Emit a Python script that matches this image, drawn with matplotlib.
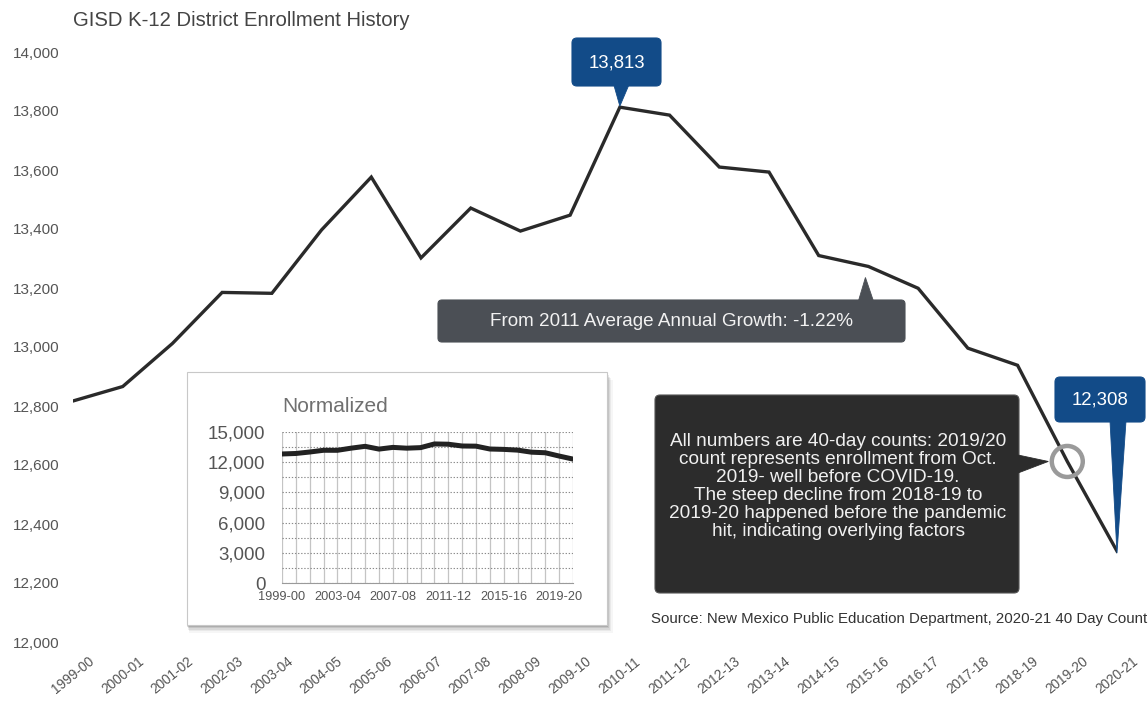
import matplotlib
matplotlib.use("Agg")
import matplotlib.pyplot as plt
from matplotlib.patches import FancyBboxPatch, Polygon, Rectangle, Circle
from matplotlib.transforms import IdentityTransform
from matplotlib.ticker import FuncFormatter

# ---- data -----------------------------------------------------------------
school_years = ["1999-00", "2000-01", "2001-02", "2002-03", "2003-04", "2004-05",
                "2005-06", "2006-07", "2007-08", "2008-09", "2009-10", "2010-11",
                "2011-12", "2012-13", "2013-14", "2014-15", "2015-16", "2016-17",
                "2017-18", "2018-19", "2019-20", "2020-21"]
enrollment = [12817, 12866, 13012, 13185, 13182, 13397, 13576, 13302, 13471, 13393,
              13447, 13813, 13786, 13610, 13593, 13310, 13273, 13199, 12996, 12938,
              12612, 12308]
main_yticks = list(range(12000, 14001, 200))
inset_yticks = list(range(0, 15001, 3000))
inset_label_years = school_years[::4]

title_text = "GISD K-12 District Enrollment History"
growth_text = "From 2011 Average Annual Growth: -1.22%"
note_lines = ["All numbers are 40-day counts: 2019/20",
              "count represents enrollment from Oct.",
              "2019- well before COVID-19.",
              "The steep decline from 2018-19 to",
              "2019-20 happened before the pandemic",
              "hit, indicating overlying factors"]
source_text = "Source: New Mexico Public Education Department, 2020-21 40 Day Count"

# ---- style ----------------------------------------------------------------
plt.rcParams["font.family"] = ["Liberation Sans", "DejaVu Sans"]
W, H = 1148, 703
LINE = "#2a2a2a"
BLUE = "#124b88"
SLATE = "#4b4f55"
DARK = "#2c2c2c"
TICK = "#555555"

fig = plt.figure(figsize=(W / 100, H / 100), dpi=100)
fig.patch.set_facecolor("white")
ID = IdentityTransform()


def py(y):
    """Convert a distance from the top edge (pixels) into display y."""
    return H - y


fmt = FuncFormatter(lambda v, _: f"{int(v):,}")

# ---- main chart -----------------------------------------------------------
ax = fig.add_axes([73 / W, 1 - 642 / H, (1117 - 73) / W, (642 - 52) / H])
xs = list(range(len(school_years)))
ax.plot(xs, enrollment, color=LINE, lw=2.4, solid_joinstyle="miter", zorder=3)
ax.set_xlim(0, len(school_years) - 1)
ax.set_ylim(main_yticks[0], main_yticks[-1])
for s in ax.spines.values():
    s.set_visible(False)
ax.set_yticks(main_yticks)
ax.yaxis.set_major_formatter(fmt)
ax.set_xticks(xs)
ax.set_xticklabels(school_years, rotation=39, ha="center", va="center",
                   rotation_mode="anchor", fontsize=9.8, color=TICK)
ax.tick_params(axis="both", length=0)
ax.tick_params(axis="y", pad=10, labelsize=11, labelcolor=TICK)
ax.tick_params(axis="x", pad=24)

fig.text(73 / W, 1 - 21 / H, title_text, fontsize=14.6, color="#444444",
         va="center", ha="left")
fig.text(651 / W, 1 - 619 / H, source_text, fontsize=10.8, color="#333333",
         va="center", ha="left")

fig.canvas.draw()


def to_disp(i, v):
    return ax.transData.transform((i, v))


def box(x0, y0, x1, y1, color, z, r=5, ec=None):
    p = FancyBboxPatch((x0, py(y1)), x1 - x0, y1 - y0,
                       boxstyle=f"round,pad=0,rounding_size={r}",
                       fc=color, ec=ec if ec else color, lw=0.8,
                       transform=ID, zorder=z)
    fig.add_artist(p)


def tri(pts, color, z):
    fig.add_artist(Polygon(pts, closed=True, fc=color, ec=color, lw=0.6,
                           transform=ID, zorder=z))


# peak callout
ipk = enrollment.index(max(enrollment))
tx, ty = to_disp(ipk, enrollment[ipk])
box(572, 38, 661, 86, BLUE, 6)
tri([(tx - 6, py(85)), (tx + 9, py(85)), (tx, ty + 1)], BLUE, 6)
fig.text(617 / W, 1 - 63 / H, f"{enrollment[ipk]:,}", color="white",
         fontsize=13.4, ha="center", va="center", zorder=7)

# latest-year callout
tx, ty = to_disp(xs[-1], enrollment[-1])
box(1055, 377, 1145, 422, BLUE, 6)
tri([(tx - 7, py(421)), (tx + 9, py(421)), (tx, ty - 2)], BLUE, 6)
fig.text(1100 / W, 1 - 400 / H, f"{enrollment[-1]:,}", color="white",
         fontsize=13.4, ha="center", va="center", zorder=7)

# average growth callout, pointing at 2015-16
tx, ty = to_disp(16, enrollment[16])
box(438, 300, 905, 342, SLATE, 5, r=4)
tri([(tx - 10, py(301)), (tx + 5, py(301)), (tx - 3, ty - 11)], SLATE, 5)
fig.text(671 / W, 1 - 322 / H, growth_text, color="#f2f2f2", fontsize=13.6,
         ha="center", va="center", zorder=6)

# ring on 2019-20 and the note box
cx, cy = to_disp(20, enrollment[20])
fig.add_artist(Circle((cx, cy), 15.5, fill=False, ec="#9a9a9a", lw=3.2,
                      transform=ID, zorder=8))
box(655, 395, 1019, 593, DARK, 5, r=5, ec="#555555")
tri([(1018, py(455)), (1018, py(473)), (cx - 19, cy)], DARK, 5)
for k, line in enumerate(note_lines):
    fig.text(838 / W, 1 - (442 + 18 * k) / H, line, color="#f0f0f0",
             fontsize=13.7, ha="center", va="center", zorder=6)

# ---- normalized inset -----------------------------------------------------
shadow = [(8, 0.035), (6, 0.05), (4.5, 0.07), (3, 0.09), (1.5, 0.12)]
for off, a in shadow:
    fig.add_artist(Rectangle((187 + off * 0.3, py(625 + off)), 420 + off * 0.4,
                             253, fc="black", ec="none", alpha=a,
                             transform=ID, zorder=1.5))
fig.add_artist(Rectangle((187, py(625)), 420, 253, fc="white", ec="#c8c8c8",
                         lw=0.8, transform=ID, zorder=2))

ins = fig.add_axes([282 / W, 1 - 583 / H, 291 / W, 151 / H])
ins.set_zorder(3)
ins.set_facecolor("white")
ins.plot(xs, enrollment, color="#222222", lw=3.6, zorder=3)
ins.set_xlim(0, len(school_years) - 1)
ins.set_ylim(inset_yticks[0], inset_yticks[-1])
ins.set_xticks(xs, minor=True)
ins.set_xticks(xs[::4])
ins.set_xticklabels(inset_label_years, fontsize=9.2, color=TICK)
ins.set_yticks(inset_yticks)
ins.set_yticks(range(0, 15001, 1500), minor=True)
ins.yaxis.set_major_formatter(fmt)
ins.tick_params(axis="y", which="both", length=0, labelsize=13.5,
                labelcolor=TICK, pad=12)
ins.tick_params(axis="x", which="both", length=0, pad=6)
ins.grid(axis="x", which="both", color="#c4c4c4", lw=0.9, ls="-")
ins.grid(axis="y", which="both", color="#8a8a8a", lw=0.8, ls=(0, (1.2, 1.6)))
ins.set_axisbelow(True)
for name, s in ins.spines.items():
    s.set_visible(name == "bottom")
ins.spines["bottom"].set_color("#9a9a9a")
ins.text(0.0, 1.17, "Normalized", transform=ins.transAxes, fontsize=15,
         color="#707070", ha="left", va="center")

fig.savefig("out.png", dpi=100, facecolor="white")
